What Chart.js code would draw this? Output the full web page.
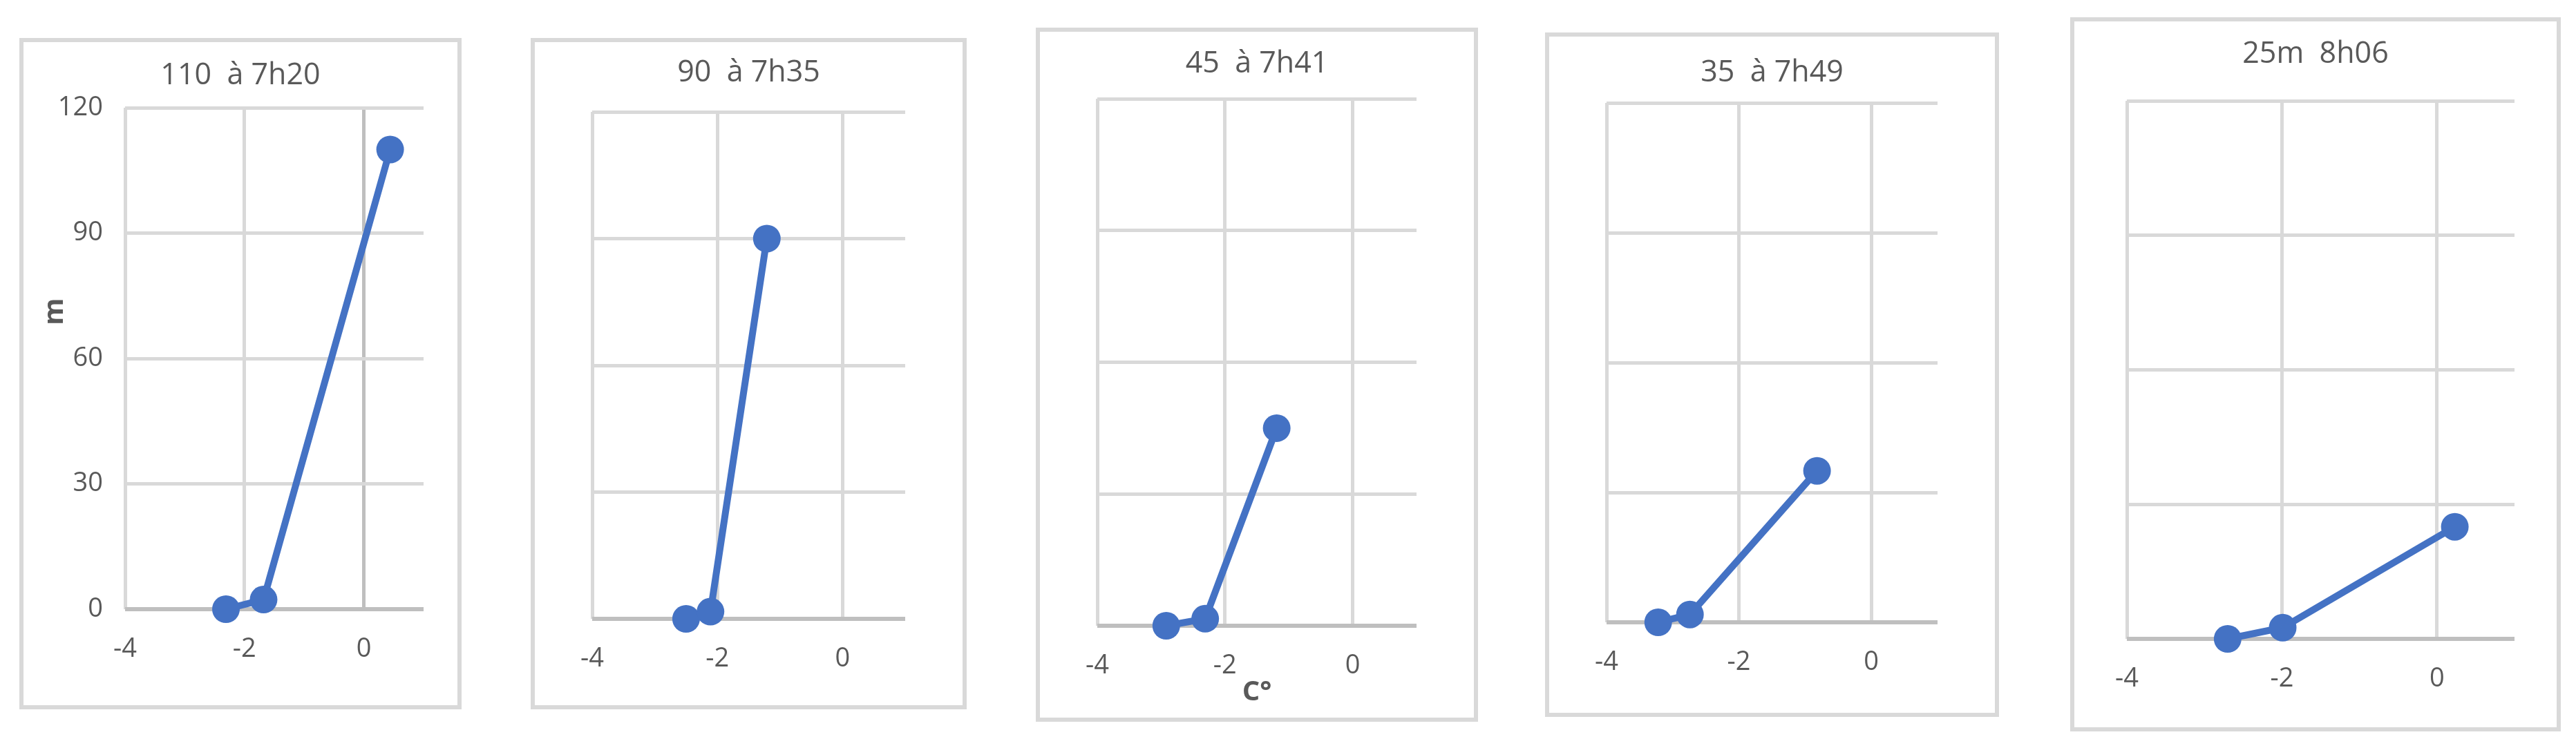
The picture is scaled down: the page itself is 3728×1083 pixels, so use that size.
<!DOCTYPE html>
<html>
<head>
<meta charset="utf-8">
<script src="https://cdn.jsdelivr.net/npm/chart.js@4.4.1/dist/chart.umd.min.js"></script>
<style>
body { margin: 0; background: #fff; width: 3728px; height: 1083px; position: relative; overflow: hidden; }
.panel { position: absolute; box-sizing: border-box; border: 6px solid #d9d9d9; background: #fff; }
.panel canvas { display: block; }
</style>
</head>
<body>
<script>
// soundings: depth (m) against water temperature (C°)
var titles = ['110  à 7h20', '90  à 7h35', '45  à 7h41', '35  à 7h49', '25m  8h06'];

var temp720 = [-2.31, -1.68, 0.44];
var depth720 = [0, 2.3, 110];
var temp735 = [-2.50, -2.11, -1.21];
var depth735 = [0, 1.7, 90];
var temp741 = [-2.92, -2.31, -1.19];
var depth741 = [0, 1.6, 45];
var temp749 = [-3.22, -2.74, -0.82];
var depth749 = [0, 1.8, 35];
var temp806 = [-2.70, -1.99, 0.23];
var depth806 = [0, 2.5, 25];

var xMin = -4, xMax = 1, xStep = 2;
var yMin = 0, yMax = 120, yStep = 30;

var temps = [temp720, temp735, temp741, temp749, temp806];
var depths = [depth720, depth735, depth741, depth749, depth806];

// page layout: outer frame [x, y, w, h], plot area [left, top, right, bottom], title centre y
var boxes = [
    {frame: [28, 55, 640, 972], plot: [181, 156, 613, 882], titleY: 107.5},
    {frame: [768, 55, 631, 972], plot: [838, 162, 1310, 896], titleY: 104},
    {frame: [1499, 40, 640, 1005], plot: [1575, 143, 2050, 906], titleY: 91},
    {frame: [2236, 47, 657, 991], plot: [2316, 149, 2804, 901], titleY: 103.5},
    {frame: [2996, 25, 710, 1034], plot: [3078, 146, 3639, 925], titleY: 76.5}
];

var BORDER = 6;
var FONT = '"Open Sans", "Liberation Sans", sans-serif';
var TEXT = '#595959';
var GRID = '#d9d9d9';
var AXIS = '#bfbfbf';
var BLUE = '#4472C4';
var TITLE_SIZE = 43;

// rotated y axis title, placed off-centre like the original
var axisNote = {
    id: 'axisNote',
    afterDraw: function (chart, args, opts) {
        if (!opts || !opts.text) return;
        var a = chart.chartArea, ctx = chart.ctx;
        ctx.save();
        ctx.translate(a.left + opts.dx, a.top + opts.dy);
        ctx.rotate(-Math.PI / 2);
        ctx.font = 'bold 40px ' + FONT;
        ctx.fillStyle = TEXT;
        ctx.textAlign = 'center';
        ctx.textBaseline = 'middle';
        ctx.fillText(opts.text, 0, 0);
        ctx.restore();
    }
};

boxes.forEach(function (b, i) {
    var div = document.createElement('div');
    div.className = 'panel';
    div.style.left = b.frame[0] + 'px';
    div.style.top = b.frame[1] + 'px';
    div.style.width = b.frame[2] + 'px';
    div.style.height = b.frame[3] + 'px';
    var innerW = b.frame[2] - 2 * BORDER, innerH = b.frame[3] - 2 * BORDER;
    var cv = document.createElement('canvas');
    cv.width = innerW;
    cv.height = innerH;
    cv.style.width = innerW + 'px';
    cv.style.height = innerH + 'px';
    div.appendChild(cv);
    document.body.appendChild(div);

    var ox = b.frame[0] + BORDER, oy = b.frame[1] + BORDER;
    var left = b.plot[0] - ox, top = b.plot[1] - oy;
    var right = b.plot[2] - ox, bottom = b.plot[3] - oy;
    var side = innerW - right;
    var padTop = (b.titleY - oy) + 2 - TITLE_SIZE * 0.6;
    var padBottom = top - padTop - TITLE_SIZE * 1.2;
    var first = i === 0;

    var pts = temps[i].map(function (t, k) { return {x: t, y: depths[i][k]}; });

    new Chart(cv, {
        type: 'scatter',
        data: {
            datasets: [{
                data: pts,
                showLine: true,
                borderColor: BLUE,
                borderWidth: 10,
                backgroundColor: BLUE,
                pointRadius: 20,
                pointBorderWidth: 0,
                pointBackgroundColor: BLUE,
                clip: false
            }]
        },
        options: {
            responsive: false,
            animation: false,
            devicePixelRatio: 1,
            layout: {padding: {left: side, right: side, top: 0, bottom: 0}},
            plugins: {
                legend: {display: false},
                tooltip: {enabled: false},
                title: {
                    display: true,
                    text: titles[i],
                    color: TEXT,
                    font: {family: FONT, size: TITLE_SIZE, weight: 'normal', lineHeight: 1.2},
                    padding: {top: padTop, bottom: padBottom}
                },
                axisNote: first ? {text: 'm', dx: -101, dy: 295} : {}
            },
            scales: {
                x: {
                    type: 'linear',
                    min: xMin,
                    max: xMax,
                    afterBuildTicks: function (s) {
                        s.ticks = s.ticks.filter(function (t) { return t.value % xStep === 0; });
                    },
                    afterFit: function (s) { s.height = innerH - bottom; },
                    ticks: {
                        stepSize: xStep,
                        padding: 35,
                        maxRotation: 0,
                        autoSkip: false,
                        color: TEXT,
                        font: {family: FONT, size: 38}
                    },
                    grid: {
                        drawTicks: false,
                        lineWidth: 5,
                        color: function (c) { return first && c.tick && c.tick.value === 0 ? AXIS : GRID; }
                    },
                    border: {display: false},
                    title: {
                        display: i === 2,
                        text: 'C°',
                        color: TEXT,
                        font: {family: FONT, size: 40, weight: 'bold', lineHeight: 1.2},
                        padding: {top: 0, bottom: 12}
                    }
                },
                y: {
                    min: yMin,
                    max: yMax,
                    afterFit: function (s) { s.width = left - side; },
                    ticks: {
                        stepSize: yStep,
                        display: first,
                        padding: 32,
                        color: TEXT,
                        font: {family: FONT, size: 38}
                    },
                    grid: {
                        drawTicks: false,
                        lineWidth: function (c) { return c.tick && c.tick.value === 0 ? 6 : 5; },
                        color: function (c) { return c.tick && c.tick.value === 0 ? AXIS : GRID; }
                    },
                    border: {display: false}
                }
            }
        },
        plugins: [axisNote]
    });
});
</script>
</body>
</html>
